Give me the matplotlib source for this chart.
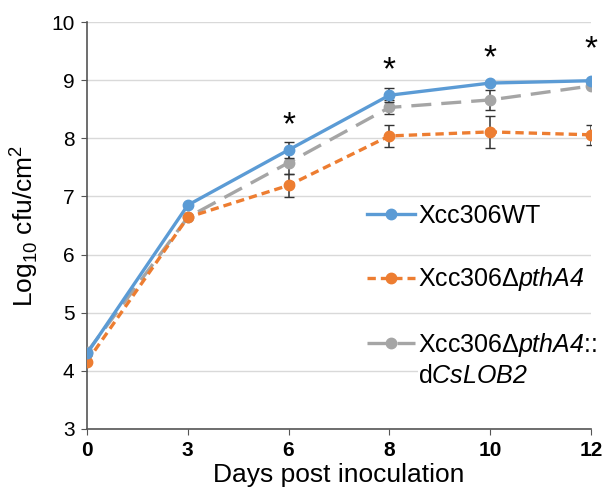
import numpy as np
import matplotlib.pyplot as plt

plt.rcParams['font.family'] = 'Liberation Sans'
plt.rcParams['mathtext.fontset'] = 'custom'
plt.rcParams['mathtext.rm'] = 'Liberation Sans'
# sf is mapped to the italic face so digits stay italic too
plt.rcParams['mathtext.sf'] = 'Liberation Sans:italic'

# Data.
days = ['0', '3', '6', '8', '10', '12']

wt = [4.30, 6.85, 7.80, 8.74, 8.95, 8.99]
wt_err = [0.0, 0.0, 0.14, 0.12, 0.0, 0.0]

dpth = [4.16, 6.64, 7.19, 8.04, 8.11, 8.06]
dpth_err = [0.0, 0.0, 0.20, 0.19, 0.27, 0.17]

comp = [4.32, 6.64, 7.58, 8.53, 8.66, 8.90]
comp_err = [0.0, 0.0, 0.20, 0.12, 0.17, 0.0]

star_days = ['6', '8', '10', '12']
star_y = [8.22, 9.17, 9.37, 9.52]

labels = ['Xcc306WT', 'Xcc306Δ$\\mathsf{pthA4}$', 'Xcc306Δ$\\mathsf{pthA4}$::']
label_2nd_line = 'd$\\mathsf{CsLOB2}$'

BLUE = '#5B9BD5'
ORANGE = '#ED7D31'
GRAY = '#A5A5A5'

x = np.arange(len(days))

fig = plt.figure(figsize=(6.06, 4.98), dpi=100)
ax = fig.add_axes([0.1436, 0.1386, 0.8314, 0.8172])

e3 = ax.errorbar(x, comp, yerr=comp_err, color=GRAY, lw=2.4, dashes=(6, 3),
                 marker='o', ms=7.5, ecolor='#333333', elinewidth=1.1, capsize=3.5,
                 zorder=3)
e2 = ax.errorbar(x, dpth, yerr=dpth_err, color=ORANGE, lw=2.4, dashes=(2.5, 1.5),
                 marker='o', ms=7.5, ecolor='#333333', elinewidth=1.1, capsize=3.5,
                 zorder=4)
e1 = ax.errorbar(x, wt, yerr=wt_err, color=BLUE, lw=2.4,
                 marker='o', ms=7.5, ecolor='#333333', elinewidth=1.1, capsize=3.5,
                 zorder=5)

for d, y in zip(star_days, star_y):
    ax.text(days.index(d), y, '*', ha='center', va='center', fontsize=24)

ax.set_xlim(0, len(days) - 1)
ax.set_ylim(3, 10)
ax.set_xticks(x)
ax.set_xticklabels(days, fontweight='bold')
ax.set_yticks(range(3, 11))
ax.tick_params(axis='both', labelsize=15, color='#555555', length=4, pad=5)
ax.grid(axis='y', color='#D9D9D9', lw=1)
ax.set_axisbelow(True)
for s in ['top', 'right']:
    ax.spines[s].set_visible(False)
for s in ['left', 'bottom']:
    ax.spines[s].set_color('#555555')
    ax.spines[s].set_linewidth(1.2)

ax.set_xlabel('Days post inoculation', fontsize=19, labelpad=2)
ax.set_ylabel('Log$_{10}$ cfu/cm$^2$', fontsize=19, labelpad=8)

# legend box background hides the gridline behind the second label line
ax.axhspan(3.9, 4.1, xmin=0.657, xmax=1, color='white', lw=0, zorder=1)

leg = ax.legend([e1[0], e2[0], e3[0]], labels, loc='upper left',
                bbox_to_anchor=(0.556, 0.553), frameon=False,
                fontsize=18, labelspacing=1.5, handlelength=1.9,
                handletextpad=0.15, borderaxespad=0, borderpad=0)
# second line of the last label, drawn after the legend so its position is known
ax.annotate(label_2nd_line, xy=(0, 0), xycoords=leg.get_texts()[2],
            xytext=(0, -4), textcoords='offset points', va='top', fontsize=18,
            zorder=10)

plt.savefig('out.png')
